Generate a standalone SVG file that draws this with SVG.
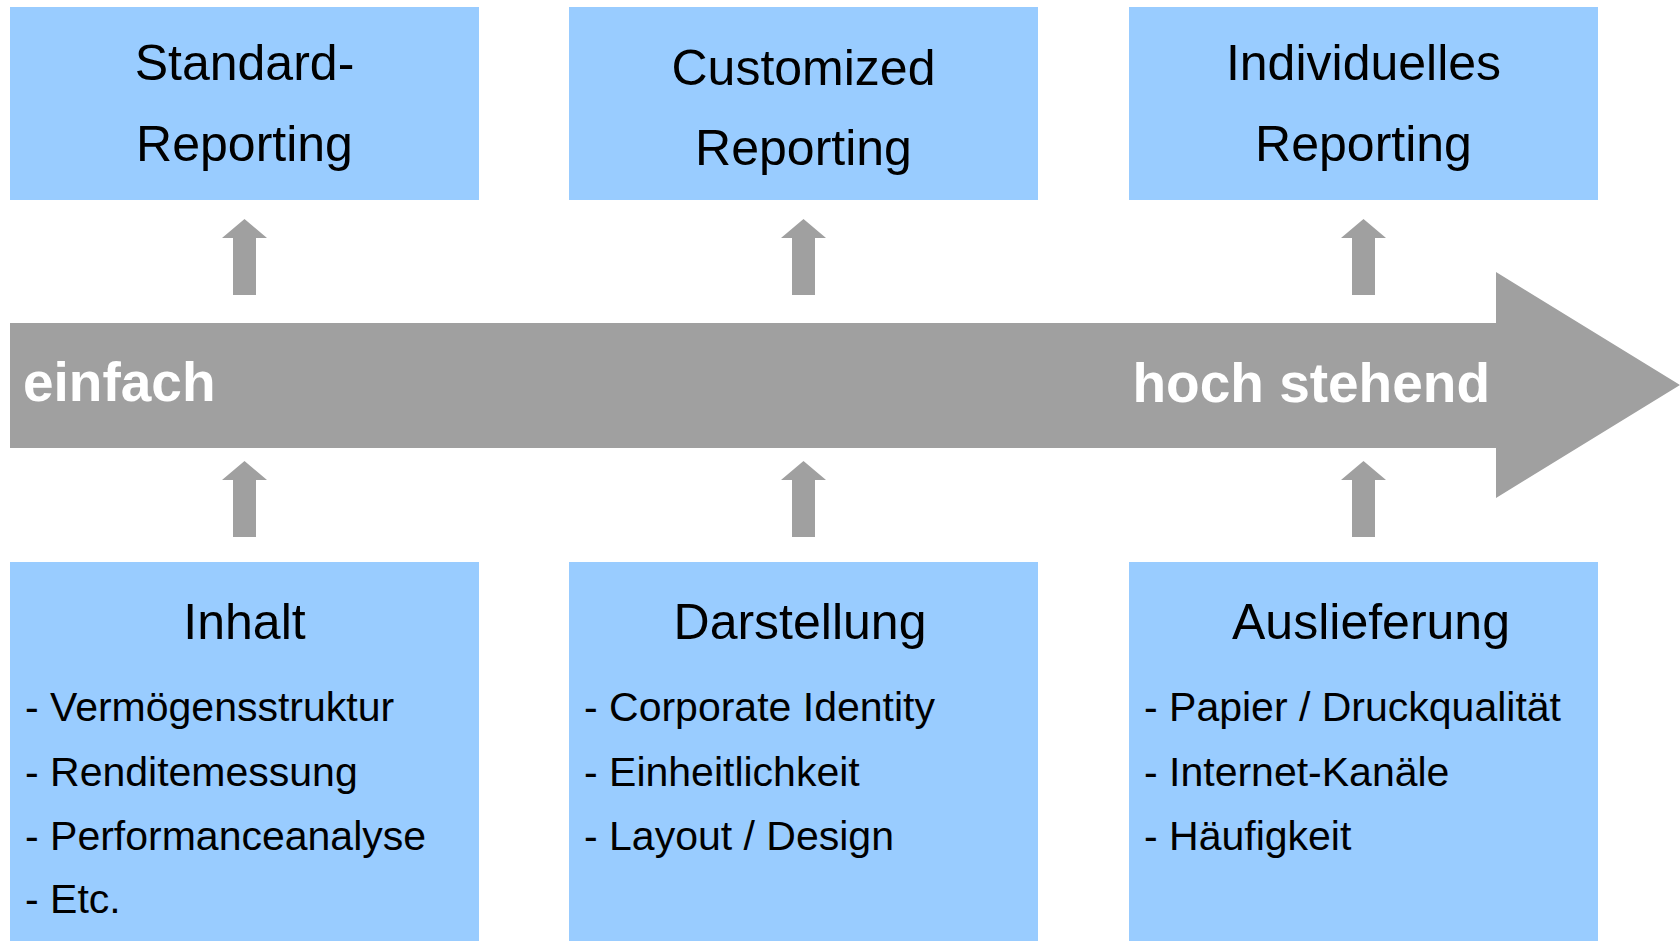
<svg xmlns="http://www.w3.org/2000/svg" width="1680" height="941" viewBox="0 0 1680 941">
  <defs>
    <style>
      .box { fill: #99CCFF; }
      .gray { fill: #A0A0A0; }
      .title { font-family: "Liberation Sans", Arial, Helvetica, sans-serif; font-size: 50px; fill: #000; text-anchor: middle; }
      .item { font-family: "Liberation Sans", Arial, Helvetica, sans-serif; font-size: 41px; fill: #000; }
      .big { font-family: "Liberation Sans", Arial, Helvetica, sans-serif; font-size: 55px; font-weight: bold; fill: #FFFFFF; }
    </style>
    <path id="up" d="M0,0 L22.5,19 L11.5,19 L11.5,76 L-11.5,76 L-11.5,19 L-22.5,19 Z"/>
  </defs>
  <rect width="1680" height="941" fill="#FFFFFF"/>

  <g id="scale">
    <polygon class="gray" points="10,323 1496,323 1496,272 1680,385 1496,498 1496,448 10,448"/>
    <text class="big" x="23" y="401">einfach</text>
    <text class="big" x="1490" y="402" text-anchor="end">hoch stehend</text>
  </g>

  <g id="standard-reporting">
    <rect class="box" x="10" y="7" width="469" height="193"/>
    <text class="title" x="244.5" y="80">Standard-</text>
    <text class="title" x="244.5" y="161">Reporting</text>
  </g>
  <g id="customized-reporting">
    <rect class="box" x="569" y="7" width="469" height="193"/>
    <text class="title" x="803.5" y="85">Customized</text>
    <text class="title" x="803.5" y="165">Reporting</text>
  </g>
  <g id="individuelles-reporting">
    <rect class="box" x="1129" y="7" width="469" height="193"/>
    <text class="title" x="1363.5" y="80">Individuelles</text>
    <text class="title" x="1363.5" y="161">Reporting</text>
  </g>

  <g id="inhalt">
    <rect class="box" x="10" y="562" width="469" height="379"/>
    <text class="title" x="244.5" y="639">Inhalt</text>
    <text class="item" x="25" y="721">- Vermögensstruktur</text>
    <text class="item" x="25" y="786">- Renditemessung</text>
    <text class="item" x="25" y="850">- Performanceanalyse</text>
    <text class="item" x="25" y="913">- Etc.</text>
  </g>
  <g id="darstellung">
    <rect class="box" x="569" y="562" width="469" height="379"/>
    <text class="title" x="800" y="639">Darstellung</text>
    <text class="item" x="584" y="721">- Corporate Identity</text>
    <text class="item" x="584" y="786">- Einheitlichkeit</text>
    <text class="item" x="584" y="850">- Layout / Design</text>
  </g>
  <g id="auslieferung">
    <rect class="box" x="1129" y="562" width="469" height="379"/>
    <text class="title" x="1371" y="639">Auslieferung</text>
    <text class="item" x="1144" y="721">- Papier / Druckqualität</text>
    <text class="item" x="1144" y="786">- Internet-Kanäle</text>
    <text class="item" x="1144" y="850">- Häufigkeit</text>
  </g>

  <g id="connectors" class="gray">
    <use href="#up" x="244.5" y="219"/>
    <use href="#up" x="803.5" y="219"/>
    <use href="#up" x="1363.5" y="219"/>
    <use href="#up" x="244.5" y="461"/>
    <use href="#up" x="803.5" y="461"/>
    <use href="#up" x="1363.5" y="461"/>
  </g>
</svg>
